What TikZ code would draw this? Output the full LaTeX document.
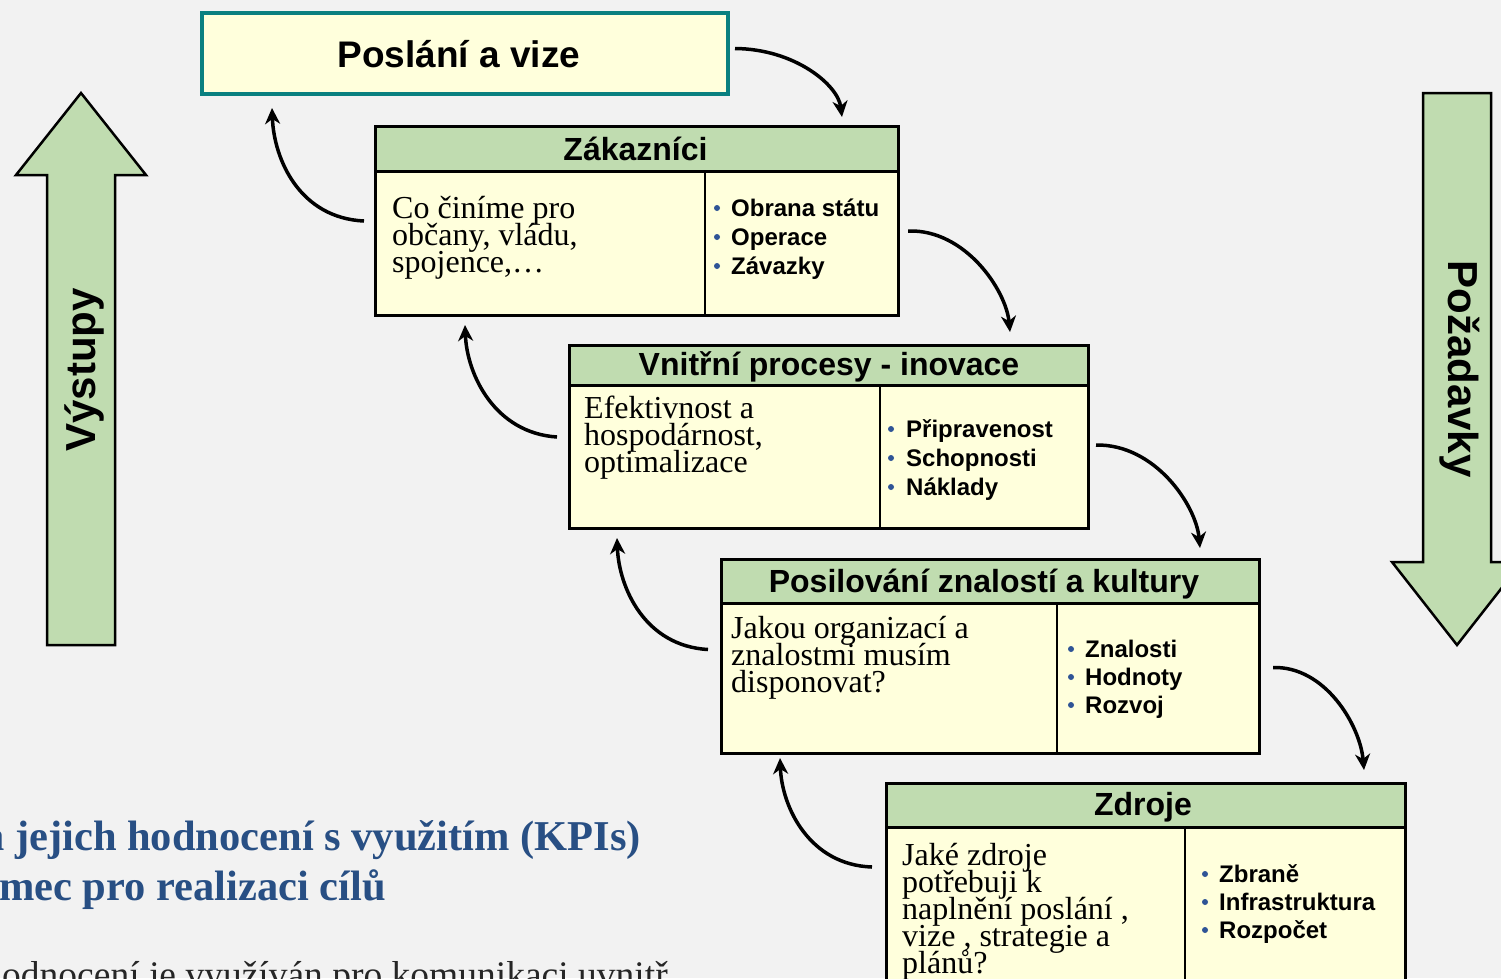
\documentclass[tikz,border=0pt]{standalone}
\usepackage{fontspec}
\setmainfont{Liberation Serif}
\setsansfont{Liberation Sans}
\usetikzlibrary{arrows.meta,calc}
\definecolor{bg}{HTML}{F2F2F2}
\definecolor{boxfill}{HTML}{FFFFDC}
\definecolor{hdrgreen}{HTML}{C0DCB0}
\definecolor{tealb}{HTML}{0A8080}
\definecolor{bulletblue}{HTML}{2F5496}
\definecolor{textblue}{HTML}{284F84}
\tikzset{
  boxbody/.style={draw=black, line width=3pt, fill=boxfill, inner sep=0pt, anchor=north west},
  hdrbar/.style={draw=black, line width=3pt, fill=hdrgreen, inner sep=0pt, anchor=north west},
  hdrtext/.style={font=\sffamily\bfseries\fontsize{32}{32}\selectfont, anchor=base, inner sep=0pt},
  bodytext/.style={font=\rmfamily\fontsize{32}{27}\selectfont, anchor=base west, inner sep=0pt},
  bullettext/.style={font=\sffamily\bfseries\fontsize{24}{24}\selectfont, anchor=base west, inner sep=0pt},
  bulletdot/.style={circle, fill=bulletblue, inner sep=0pt, minimum size=6pt},
  divline/.style={line width=2pt},
  conn/.style={line width=3.5pt, -{Stealth[length=16pt, width=15pt, inset=5pt]}},
  bigarrow/.style={fill=hdrgreen, draw=black, line width=2.5pt, line join=miter},
  bluetext/.style={font=\rmfamily\bfseries\fontsize{42.5}{42.5}\selectfont, text=textblue, anchor=base west, inner sep=0pt},
}
\begin{document}
\begin{tikzpicture}[x=1pt, y=-1pt]
\useasboundingbox (0,0) rectangle (1501,978);
\clip (0,0) rectangle (1501,978);
\fill[bg] (0,0) rectangle (1501,978);

% big arrows
\draw[bigarrow] (47,645) -- (47,175) -- (16,175) -- (81,93) -- (146,175) -- (115,175) -- (115,645) -- cycle;
\node[font=\sffamily\bfseries\fontsize{42}{42}\selectfont, rotate=90, inner sep=0pt] (vys) at (84,370) {Výstupy};
\draw[bigarrow] (1423,93) -- (1423,562) -- (1392,562) -- (1457,645) -- (1522,562) -- (1491,562) -- (1491,93) -- cycle;
\node[font=\sffamily\bfseries\fontsize{42}{42}\selectfont, rotate=-90, inner sep=0pt] (poz) at (1460,369) {Požadavky};

% mission box
\node[draw=tealb, line width=4pt, fill=boxfill, minimum width=526pt, minimum height=81pt, inner sep=0pt] (posl) at (465,53.5) {};
\node[font=\sffamily\bfseries\fontsize{37}{37}\selectfont, anchor=base, inner sep=0pt] (poslt) at (459,67) {Poslání a vize};

% Zakaznici
\node[boxbody, minimum width=523pt, minimum height=189pt] (zak) at (374,125) {};
\node[hdrbar, minimum width=523pt, minimum height=45pt] (zakh) at (374,125) {};
\node[hdrtext] (zakt) at (635.5,160) {Zákazníci};
\draw[divline] (705,170) -- (705,314);
\node[bodytext] (zak1) at (392,218) {Co činíme pro};
\node[bodytext] (zak2) at (392,245) {občany, vládu,};
\node[bodytext] (zak3) at (392,272) {spojence,\dots};
\foreach \y/\t [count=\i] in {216/Obrana státu, 245/Operace, 274/Závazky}{
  \node[bulletdot] (zakd\i) at (717,\y-8) {};
  \node[bullettext] (zakb\i) at (731,\y) {\t};
}

% Vnitrni procesy
\node[boxbody, minimum width=519pt, minimum height=183pt] (vni) at (568,344) {};
\node[hdrbar, minimum width=519pt, minimum height=40pt] (vnih) at (568,344) {};
\node[hdrtext] (vnit) at (829,375) {Vnitřní procesy - inovace};
\draw[divline] (880,384) -- (880,529);
\node[bodytext] (vni1) at (584,418) {Efektivnost a};
\node[bodytext] (vni2) at (584,445) {hospodárnost,};
\node[bodytext] (vni3) at (584,472) {optimalizace};
\foreach \y/\t [count=\i] in {437/Připravenost, 466/Schopnosti, 495/Náklady}{
  \node[bulletdot] (vnid\i) at (891,\y-8) {};
  \node[bullettext] (vnib\i) at (906,\y) {\t};
}

% Posilovani
\node[boxbody, minimum width=538pt, minimum height=194pt] (pos) at (720,558) {};
\node[hdrbar, minimum width=538pt, minimum height=44pt] (posh) at (720,558) {};
\node[hdrtext] (post) at (984,592) {Posilování znalostí a kultury};
\draw[divline] (1057,602) -- (1057,752);
\node[bodytext] (pos1) at (731,638) {Jakou organizací a};
\node[bodytext] (pos2) at (731,665) {znalostmi musím};
\node[bodytext] (pos3) at (731,692) {disponovat?};
\foreach \y/\t [count=\i] in {657/Znalosti, 685/Hodnoty, 713/Rozvoj}{
  \node[bulletdot] (posd\i) at (1071,\y-8) {};
  \node[bullettext] (posb\i) at (1085,\y) {\t};
}

% Zdroje
\node[boxbody, minimum width=519pt, minimum height=260pt] (zdr) at (885,782) {};
\node[hdrbar, minimum width=519pt, minimum height=44pt] (zdrh) at (885,782) {};
\node[hdrtext] (zdrt) at (1143,815) {Zdroje};
\draw[divline] (1185,826) -- (1185,1042);
\node[bodytext] (zdr1) at (902,865) {Jaké zdroje};
\node[bodytext] (zdr2) at (902,892) {potřebuji k};
\node[bodytext] (zdr3) at (902,919) {naplnění poslání ,};
\node[bodytext] (zdr4) at (902,946) {vize , strategie a};
\node[bodytext] (zdr5) at (902,973) {plánů?};
\foreach \y/\t [count=\i] in {882/Zbraně, 910/Infrastruktura, 938/Rozpočet}{
  \node[bulletdot] (zdrd\i) at (1205,\y-8) {};
  \node[bullettext] (zdrb\i) at (1219,\y) {\t};
}

% connectors (down, right side)
\coordinate (a1s) at ($(posl.east)+(5,-5)$);
\coordinate (a1e) at ($(zak.north west)+(468,-8)$);
\draw[conn] (a1s) .. controls (795,49) and (838,85) .. (a1e);
\coordinate (a2s) at ($(zak.east)+(8,10)$);
\coordinate (a2e) at ($(vni.north west)+(442,-12)$);
\draw[conn] (a2s) .. controls (965,229) and (1006,290) .. (a2e);
\coordinate (a3s) at ($(vni.east)+(6,8)$);
\coordinate (a3e) at ($(pos.north west)+(480,-10)$);
\draw[conn] (a3s) .. controls (1155,444) and (1196,505) .. (a3e);
\coordinate (a4s) at ($(pos.east)+(12,11)$);
\coordinate (a4e) at ($(zdr.north west)+(479,-12)$);
\draw[conn] (a4s) .. controls (1325,666) and (1360,725) .. (a4e);

% connectors (up, left side)
\coordinate (b1s) at ($(zak.west)+(-10,0)$);
\coordinate (b1e) at ($(posl.south west)+(72,12)$);
\draw[conn] (b1s) .. controls (300,218) and (274,160) .. (b1e);
\coordinate (b2s) at ($(vni.west)+(-11,0)$);
\coordinate (b2e) at ($(zak.south west)+(91,8)$);
\draw[conn] (b2s) .. controls (495,433) and (467,375) .. (b2e);
\coordinate (b3s) at ($(pos.west)+(-12,-7)$);
\coordinate (b3e) at ($(vni.south west)+(49,8)$);
\draw[conn] (b3s) .. controls (645,646) and (619,588) .. (b3e);
\coordinate (b4s) at (872,867);
\coordinate (b4e) at ($(pos.south west)+(60,3)$);
\draw[conn] (b4s) .. controls (810,865) and (782,808) .. (b4e);

% bottom-left text (partly cut off)
\node[bluetext] (bl1) at (15,850) {\llap{a\ }jejich hodnocení s využitím (KPIs)};
\node[bluetext] (bl2) at (-1,900) {\llap{rá}mec pro realizaci cílů};
\node[font=\rmfamily\fontsize{37.5}{37.5}\selectfont, text=black!85, anchor=base west, inner sep=0pt] (bl3) at (2,987) {\llap{h}odnocení je využíván pro komunikaci uvnitř};
\end{tikzpicture}
\end{document}
